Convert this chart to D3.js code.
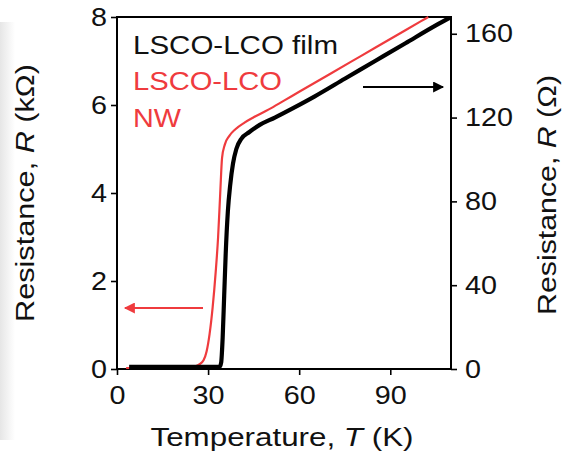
<!DOCTYPE html>
<html><head><meta charset="utf-8">
<script src="https://cdn.jsdelivr.net/npm/d3@7"></script>
<style>
html,body{margin:0;padding:0;background:#fff;}
text{font-family:"Liberation Sans",Arial,sans-serif;}
</style></head>
<body>
<svg id="c" width="567" height="458"></svg>
<script>
// NW (red) on left axis, kΩ
const nwT = [3,10,20,25,27,28.5,29.5,30.5,31.5,32.5,33.3,34,34.6,35.5,37,39,42,45,50,55,60,70,80,90,100,102.5];
const nwR = [0.02,0.02,0.03,0.05,0.1,0.2,0.4,0.8,1.4,2.2,3.0,4.0,4.8,5.1,5.3,5.45,5.6,5.72,5.9,6.1,6.3,6.7,7.1,7.5,7.9,8.0];
// Film (black) on right axis, Ω
const filmT = [4,10,20,30,33.8,34.3,34.8,35.3,35.8,36.5,37.3,38.2,39.3,41,43.5,47,52,58,65,75,85,95,105,110];
const filmR = [1,1,1,1,1,3,15,35,55,75,88,98,105,110,113,116.5,120,124.5,130,138.5,147,155.5,164,168];
const xTicks = [0,30,60,90];
const yLeftTicks = [0,2,4,6,8];
const yRightTicks = [0,40,80,120,160];
const legendLabels = ["LSCO-LCO film","LSCO-LCO","NW"];

const svg = d3.select("#c");
const red = "#ef3b3e";

// faint grey strip on the left edge (scan artifact)
const defs = svg.append("defs");
const g1 = defs.append("linearGradient").attr("id","strip").attr("x1","0").attr("x2","1");
g1.append("stop").attr("offset","0").attr("stop-color","#e6e6e6");
g1.append("stop").attr("offset","1").attr("stop-color","#ffffff");
svg.append("rect").attr("x",0).attr("y",22).attr("width",15).attr("height",418).attr("fill","url(#strip)");

const x = d3.scaleLinear().domain([0,110]).range([117,451]);
const yL = d3.scaleLinear().domain([0,8]).range([369,17]);
const yR = d3.scaleLinear().domain([0,168]).range([369,17]);

const fs = 25;
function styleAxis(g){
  g.select(".domain").remove();
  g.selectAll(".tick line").attr("stroke","#000").attr("stroke-width",1.6);
  g.selectAll(".tick text").attr("font-size",fs).attr("fill","#111").attr("font-family","'Liberation Sans',Arial,sans-serif");
}
svg.append("g").attr("transform","translate(0,369)")
  .call(d3.axisBottom(x).tickValues(xTicks).tickSize(6).tickPadding(11).tickSizeOuter(0)).call(styleAxis);
svg.append("g").attr("transform","translate(117,0)")
  .call(d3.axisLeft(yL).tickValues(yLeftTicks).tickSize(6).tickPadding(4).tickSizeOuter(0)).call(styleAxis);
svg.append("g").attr("transform","translate(451,0)")
  .call(d3.axisRight(yR).tickValues(yRightTicks).tickSize(6).tickPadding(8).tickSizeOuter(0)).call(styleAxis);

// frame
svg.append("rect").attr("x",x(0)).attr("y",yL(8)).attr("width",x(110)-x(0)).attr("height",yL(0)-yL(8))
  .attr("fill","none").attr("stroke","#000").attr("stroke-width",2);

// curves
const clip = defs.append("clipPath").attr("id","clip");
clip.append("rect").attr("x",x(0)).attr("y",yL(8)-1).attr("width",x(110)-x(0)).attr("height",yL(0)-yL(8)+1);
const nwLine = d3.line().x(d=>x(d[0])).y(d=>yL(d[1])).curve(d3.curveMonotoneX);
const filmLine = d3.line().x(d=>x(d[0])).y(d=>yR(d[1])).curve(d3.curveMonotoneX);
const plot = svg.append("g").attr("clip-path","url(#clip)");
plot.append("path").attr("d",nwLine(nwT.map((t,i)=>[t,nwR[i]])))
  .attr("fill","none").attr("stroke",red).attr("stroke-width",2.2);
plot.append("path").attr("d",filmLine(filmT.map((t,i)=>[t,filmR[i]])))
  .attr("fill","none").attr("stroke","#000").attr("stroke-width",4.2).attr("stroke-linejoin","round");

// arrows
defs.append("marker").attr("id","ab").attr("viewBox","0 0 10 10").attr("refX",9).attr("refY",5)
  .attr("markerWidth",17).attr("markerHeight",11).attr("markerUnits","userSpaceOnUse")
  .attr("orient","auto").append("path").attr("d","M0,0L10,5L0,10Z").attr("fill","#000");
defs.append("marker").attr("id","ar").attr("viewBox","0 0 10 10").attr("refX",9).attr("refY",5)
  .attr("markerWidth",17).attr("markerHeight",11).attr("orient","auto").attr("markerUnits","userSpaceOnUse")
  .append("path").attr("d","M0,0L10,5L0,10Z").attr("fill",red);
svg.append("line").attr("x1",363).attr("y1",87).attr("x2",443).attr("y2",87)
  .attr("stroke","#000").attr("stroke-width",2).attr("marker-end","url(#ab)");
svg.append("line").attr("x1",203).attr("y1",308).attr("x2",125).attr("y2",308)
  .attr("stroke",red).attr("stroke-width",2).attr("marker-end","url(#ar)");

// legend texts
const legColors = ["#111",red,red];
const legY = [54,90,127];
const legW = [205,149,48];
legendLabels.forEach((s,i)=>{
  svg.append("text").attr("x",133).attr("y",legY[i]).attr("font-size",fs).attr("fill",legColors[i])
    .attr("textLength",legW[i]).attr("lengthAdjust","spacingAndGlyphs").text(s);
});

// axis titles
function title(sel, pre, it, post){
  sel.append("tspan").text(pre);
  sel.append("tspan").attr("font-style","italic").text(it);
  sel.append("tspan").text(post);
}
const tx = svg.append("text").attr("x",282).attr("y",446).attr("text-anchor","middle").attr("font-size",fs).attr("fill","#111")
  .attr("textLength",263).attr("lengthAdjust","spacingAndGlyphs");
title(tx,"Temperature, ","T"," (K)");
const tl = svg.append("text").attr("transform","translate(34,193) rotate(-90)").attr("text-anchor","middle")
  .attr("font-size",fs).attr("fill","#111").attr("textLength",258).attr("lengthAdjust","spacingAndGlyphs");
title(tl,"Resistance, ","R"," (kΩ)");
const tr = svg.append("text").attr("transform","translate(556,195) rotate(-90)").attr("text-anchor","middle")
  .attr("font-size",fs).attr("fill","#111").attr("textLength",240).attr("lengthAdjust","spacingAndGlyphs");
title(tr,"Resistance, ","R"," (Ω)");

// stretch tick labels horizontally like the reference
svg.selectAll(".tick text").each(function(){
  const L = this.getComputedTextLength();
  d3.select(this).attr("textLength",L*1.15).attr("lengthAdjust","spacingAndGlyphs");
});
</script>
</body></html>
